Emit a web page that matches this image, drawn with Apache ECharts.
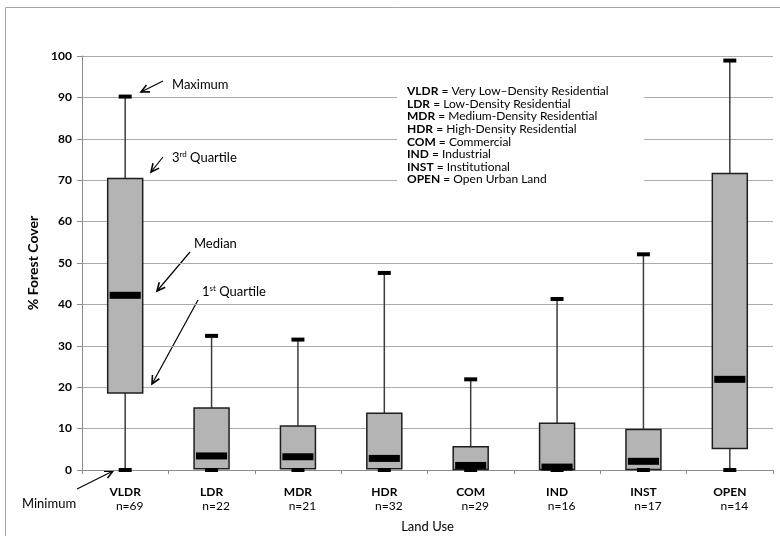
<!DOCTYPE html>
<html>
<head>
<meta charset="utf-8">
<script src="https://cdn.jsdelivr.net/npm/echarts@6/dist/echarts.min.js"></script>
<style>html,body{margin:0;padding:0;background:#fff}#c{width:780px;height:536px}</style>
</head>
<body>
<div id="c"></div>
<script>
var categories = ['VLDR', 'LDR', 'MDR', 'HDR', 'COM', 'IND', 'INST', 'OPEN'];
var counts = [69, 22, 21, 32, 29, 16, 17, 14];
var minValues = [0, 0, 0, 0, 0, 0, 0, 0];
var q1Values = [18.6, 0.3, 0.3, 0.3, 0.1, 0.1, 0.1, 5.2];
var medianValues = [42.2, 3.4, 3.2, 2.8, 1.1, 0.7, 2.1, 21.9];
var q3Values = [70.4, 15.0, 10.6, 13.7, 5.6, 11.3, 9.8, 71.6];
var maxValues = [90.2, 32.4, 31.5, 47.6, 21.9, 41.3, 52.1, 98.9];
var yTicks = [0, 10, 20, 30, 40, 50, 60, 70, 80, 90, 100];

var FONT = 'Lato';
var chart = echarts.init(document.getElementById('c'));

var boxData = categories.map(function (c, i) {
  return [i, minValues[i], q1Values[i], medianValues[i], q3Values[i], maxValues[i]];
});

function arrow(x1, y1, x2, y2, head) {
  var ang = Math.atan2(y2 - y1, x2 - x1);
  var h = head || 9, a = 0.45;
  var p1 = [x2 - h * Math.cos(ang - a), y2 - h * Math.sin(ang - a)];
  var p2 = [x2 - h * Math.cos(ang + a), y2 - h * Math.sin(ang + a)];
  return {
    type: 'group', z: 100,
    children: [
      { type: 'line', shape: { x1: x1, y1: y1, x2: x2, y2: y2 }, style: { stroke: '#000', lineWidth: 1.2 } },
      { type: 'polyline', shape: { points: [p1, [x2, y2], p2] }, style: { stroke: '#000', lineWidth: 1.6, fill: null } }
    ]
  };
}

function annot(x, y, text, rich) {
  return {
    type: 'text', x: x, y: y, z: 100,
    style: { text: text, font: '13px ' + FONT, fill: '#000', verticalAlign: 'middle', rich: rich || {} }
  };
}

var supRich = {
  s: { fontSize: 8, fontFamily: FONT, verticalAlign: 'top', padding: [0, 0, 7, 0] },
  t: { fontSize: 13, fontFamily: FONT }
};

var legendLines = [
  ['VLDR', 'Very Low\u2013Density Residential'],
  ['LDR', 'Low-Density Residential'],
  ['MDR', 'Medium-Density Residential'],
  ['HDR', 'High-Density Residential'],
  ['COM', 'Commercial'],
  ['IND', 'Industrial'],
  ['INST', 'Institutional'],
  ['OPEN', 'Open Urban Land']
];
var legendText = legendLines.map(function (l) { return '{b|' + l[0] + '}{r| = ' + l[1] + '}'; }).join('\n');

var option = {
  backgroundColor: '#fff',
  animation: false,
  textStyle: { fontFamily: FONT },
  grid: { left: 82, top: 56, right: 7, bottom: 66, outerBoundsMode: 'none', containLabel: false },
  xAxis: {
    type: 'category',
    data: categories,
    boundaryGap: true,
    name: 'Land Use',
    nameLocation: 'middle',
    nameGap: 50,
    nameTextStyle: { fontSize: 13, color: '#000', fontFamily: FONT },
    axisLine: { lineStyle: { color: '#8c8c8c', width: 1 } },
    axisTick: { show: true, length: 4, lineStyle: { color: '#8c8c8c' } },
    axisLabel: {
      margin: 14,
      interval: 0,
      formatter: function (v, i) { return '{b|' + v + '}\n{n|n=' + counts[i] + '}'; },
      rich: {
        b: { fontWeight: 'bold', fontSize: 12, color: '#000', fontFamily: FONT, lineHeight: 16 },
        n: { fontSize: 12, color: '#000', fontFamily: FONT, lineHeight: 13, padding: [0, 0, 0, 9] }
      }
    },
    splitLine: { show: false }
  },
  yAxis: {
    type: 'value',
    min: 0, max: 100, interval: 10,
    name: '% Forest Cover',
    nameLocation: 'middle',
    nameGap: 42,
    nameTextStyle: { fontSize: 14, fontWeight: 'bold', color: '#000', fontFamily: FONT },
    axisLine: { show: true, lineStyle: { color: '#8c8c8c', width: 1 } },
    axisTick: { show: true, length: 5, lineStyle: { color: '#8c8c8c' } },
    axisLabel: {
      margin: 10, fontSize: 12, fontWeight: 'bold', color: '#000', fontFamily: FONT,
      customValues: yTicks
    },
    splitLine: { show: true, lineStyle: { color: '#ababab', width: 1.2 } }
  },
  series: [{
    type: 'custom',
    data: boxData,
    encode: { x: 0, y: [1, 2, 3, 4, 5] },
    z: 10,
    renderItem: function (params, api) {
      var x = api.value(0);
      var pMin = api.coord([x, api.value(1)]);
      var pQ1 = api.coord([x, api.value(2)]);
      var pMed = api.coord([x, api.value(3)]);
      var pQ3 = api.coord([x, api.value(4)]);
      var pMax = api.coord([x, api.value(5)]);
      var band = api.size([1, 0])[0];
      var bw = band * 0.405, mw = band * 0.36, cw = 13;
      var cx = pMin[0];
      return {
        type: 'group',
        children: [
          { type: 'line', shape: { x1: cx, y1: pMin[1], x2: cx, y2: pMax[1] }, style: { stroke: '#3c3c3c', lineWidth: 1.5 } },
          { type: 'rect', shape: { x: cx - bw / 2, y: pQ3[1], width: bw, height: pQ1[1] - pQ3[1] }, style: { fill: '#b4b4b4', stroke: '#1e1e1e', lineWidth: 1.5 } },
          { type: 'rect', shape: { x: cx - mw / 2, y: pMed[1] - 3.5, width: mw, height: 7 }, style: { fill: '#000' } },
          { type: 'rect', shape: { x: cx - cw / 2, y: pMax[1] - 2, width: cw, height: 4 }, style: { fill: '#000' } },
          { type: 'rect', shape: { x: cx - cw / 2, y: pMin[1] - 2, width: cw, height: 4 }, style: { fill: '#000' } }
        ]
      };
    }
  }],
  graphic: [
    { type: 'rect', z: 200, shape: { x: 5.5, y: 7.5, width: 800, height: 600 }, style: { fill: null, stroke: '#a6a6a6', lineWidth: 1 } },
    { type: 'rect', z: 90, shape: { x: 397, y: 82, width: 247, height: 106 }, style: { fill: '#fff' } },
    {
      type: 'text', x: 407, y: 85, z: 100,
      style: {
        text: legendText, fill: '#000',
        rich: {
          b: { fontWeight: 'bold', fontSize: 12, fontFamily: FONT, lineHeight: 12.6 },
          r: { fontSize: 12, fontFamily: FONT, lineHeight: 12.6 }
        }
      }
    },
    annot(172, 85, 'Maximum'),
    arrow(163, 81, 141, 92),
    annot(172, 158, '{t|3}{s|rd}{t| Quartile}', supRich),
    arrow(163, 157, 151, 172),
    annot(194, 244, 'Median'),
    arrow(190, 252, 157, 291),
    annot(202, 292, '{t|1}{s|st}{t| Quartile}', supRich),
    arrow(198, 300, 152, 384),
    annot(22, 504, 'Minimum'),
    arrow(77, 489, 113, 471)
  ]
};
chart.setOption(option);
</script>
</body>
</html>
